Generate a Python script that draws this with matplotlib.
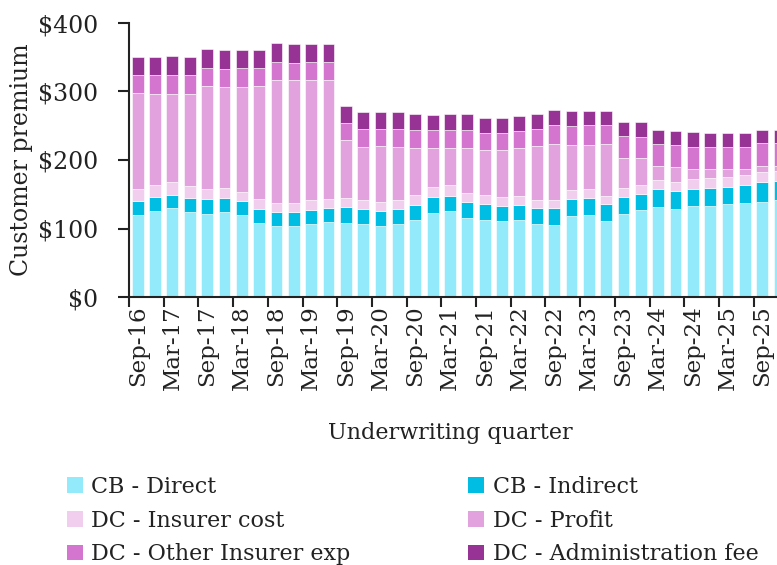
import matplotlib.pyplot as plt
import numpy as np
from matplotlib.patches import Patch

plt.rcParams['font.family'] = ['DejaVu Serif']

quarters = []
for y in range(16, 26):
    for m in ['Mar', 'Jun', 'Sep', 'Dec']:
        quarters.append(f"{m}-{y}")
quarters = quarters[2:]  # starts Sep-16, ends Dec-25

cb_direct = [120, 126, 129.5, 124.5, 121.5, 123.5, 119, 108, 103, 103, 106.5, 109,
             108.5, 106, 103.6, 106.6, 112, 123, 125.5, 115, 113, 111, 112.4, 106.6,
             105.6, 118.7, 120, 111.4, 121.6, 126.5, 131.8, 129, 132.4, 133.3, 135.3,
             137.7, 139, 142]
cb_indirect = [20, 20, 19.5, 20.5, 21, 21, 21, 20.5, 21, 21, 21, 21.5,
               23, 23, 22.4, 22.4, 22.7, 22.5, 22.5, 23, 22.4, 22.3, 22.3, 23,
               24, 24, 24, 24, 25, 24.3, 25.2, 25.3, 25.6, 26.3, 25.7,
               26.3, 28.8, 27.8]
dc_insurer_cost = [17, 17, 19, 17, 15, 14.5, 13.7, 14.5, 13.5, 13, 13.5, 12.5,
                   13, 12.6, 12.7, 12.6, 14.3, 14.5, 15, 13.8, 13, 12.7, 12.7, 12,
                   12, 14, 13.7, 12, 13, 12.7, 13.8, 13.7, 14.3, 13.7, 14.7,
                   14.6, 14, 14.4]
dc_profit = [141, 134, 129, 135, 150.5, 148, 153.3, 165, 180, 180, 176, 174,
             84.5, 78, 81.8, 78, 69, 57.5, 54.5, 65.7, 66, 68, 70, 78.8,
             82.2, 65.7, 64.7, 76, 43.4, 39, 20, 22.3, 15, 13, 10.7,
             8.7, 9, 6.6]
dc_other_exp = [26, 27, 27, 27, 27, 26, 27, 26, 26, 25, 25.5, 25.5,
                25.5, 25.5, 24.5, 25.5, 25.8, 25.8, 26, 26.3, 25.4, 25.4, 25.3, 24.7,
                27.8, 27.6, 28.6, 28.2, 32, 31.5, 32.4, 32, 32.2, 33, 33,
                32.2, 34.3, 34.3]
dc_admin_fee = [27, 27, 28, 27, 26.5, 27.5, 26.5, 26.5, 27, 28, 27.5, 27.5,
                24.5, 25, 25, 25, 23.2, 22.7, 23.4, 23, 22, 22.6, 22.2, 22.3,
                21.4, 21.5, 21, 20.4, 20.5, 21, 20.4, 20.4, 21, 20.5, 20.5,
                20.5, 18.5, 18.5]

series = [
    ("CB - Direct", cb_direct, "#93EAFB"),
    ("CB - Indirect", cb_indirect, "#00BDE3"),
    ("DC - Insurer cost", dc_insurer_cost, "#F1CEEE"),
    ("DC - Profit", dc_profit, "#E1A2DD"),
    ("DC - Other Insurer exp", dc_other_exp, "#D475CF"),
    ("DC - Administration fee", dc_admin_fee, "#983396"),
]

fig = plt.figure(figsize=(7.77, 5.65), dpi=100)
n = len(quarters)
ax_w_px = n * 17.35
ax = fig.add_axes([129 / 777, 1 - 297 / 565, ax_w_px / 777, 274 / 565])

x = np.arange(n)
bottom = np.zeros(n)
for name, vals, col in series:
    ax.bar(x, vals, width=0.68, bottom=bottom, color=col, edgecolor='white',
           linewidth=0.4)
    bottom += np.array(vals)

ax.set_xlim(-0.5, n - 0.5)
ax.set_ylim(0, 400)
ax.set_yticks([0, 100, 200, 300, 400])
ax.set_yticklabels(["$0", "$100", "$200", "$300", "$400"])

ax.set_xticks(x[::2])
ax.set_xticklabels(quarters[::2], rotation=90)
ax.set_xticks(np.arange(-0.5, n, 2), minor=True)
ax.tick_params(axis='x', which='major', length=0, pad=6, labelsize=16.5, colors='#222222')
ax.tick_params(axis='x', which='minor', length=7, width=1.5, color='#222222')
ax.tick_params(axis='y', length=8, width=1.5, color='#222222', labelsize=17,
               labelcolor='#222222', pad=14)

for s in ['top', 'right']:
    ax.spines[s].set_visible(False)
for s in ['left', 'bottom']:
    ax.spines[s].set_linewidth(1.5)
    ax.spines[s].set_color('#222222')

ax.set_ylabel("Customer premium", fontsize=17, color='#222222')
ax.yaxis.set_label_coords((33 - 129) / ax_w_px, 0.5)
fig.text(450 / 777, 1 - 433 / 565, "Underwriting quarter", fontsize=16,
         color='#222222', ha='center', va='center')

handles = [Patch(facecolor=c, label=nm) for nm, _, c in series]
order = [0, 2, 4, 1, 3, 5]
fig.legend([handles[i] for i in order], [series[i][0] for i in order],
           ncol=2, loc='upper left', bbox_to_anchor=(47 / 777, 1 - 456 / 565),
           frameon=False, fontsize=16, handlelength=0.7, handleheight=0.7,
           handletextpad=0.4, columnspacing=5.3, labelspacing=0.52,
           labelcolor='#222222')

fig.savefig("out.png", dpi=100)
